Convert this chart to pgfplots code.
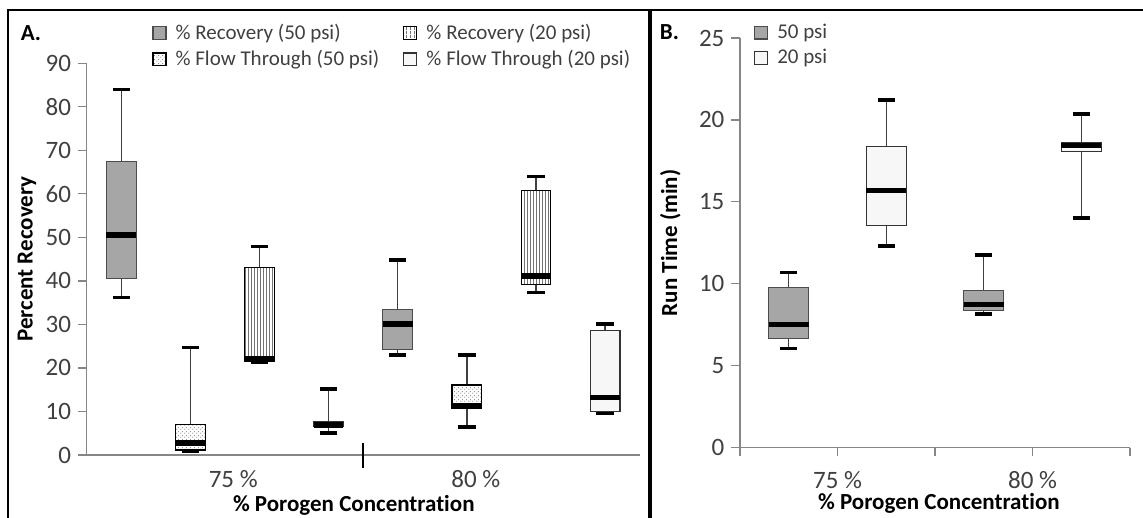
\documentclass[border=0pt]{standalone}
\usepackage{fontspec}
\setmainfont{Carlito}[RawFeature=-liga]
\usepackage{pgfplots}
\pgfplotsset{compat=1.18}
\usepgfplotslibrary{statistics}
\usetikzlibrary{patterns.meta}

\definecolor{axgray}{HTML}{868686}
\definecolor{boxgray}{HTML}{A6A6A6}
\definecolor{lightfill}{HTML}{F7F7F7}
\definecolor{txt}{HTML}{404040}

% fine fills like the Excel ones
\tikzdeclarepattern{
  name=finevlines, type=uncolored,
  bottom left={(0pt,0pt)}, top right={(1.7pt,1.7pt)}, tile size={(1.7pt,1.7pt)},
  code={\draw[line width=0.4pt] (0.85pt,-0.1pt) -- (0.85pt,1.8pt);}
}
\tikzdeclarepattern{
  name=finedots, type=uncolored,
  bottom left={(0pt,0pt)}, top right={(2pt,2pt)}, tile size={(2pt,2pt)},
  code={\fill (0.5pt,0.5pt) circle (0.35pt); \fill (1.5pt,1.4pt) circle (0.35pt);}
}

\tikzset{
  rec50/.style={draw=black!70, fill=boxgray, line width=0.6pt},
  rec20/.style={draw=black, pattern=finevlines, pattern color=black!55, line width=0.6pt},
  flow50/.style={draw=black, pattern=finedots, pattern color=black!50, line width=0.6pt},
  flow20/.style={draw=black!80, fill=lightfill, line width=0.6pt},
}

\pgfplotsset{
  legend image code/.code={\draw[#1] (0pt,-3.2pt) rectangle (6.5pt,3.2pt); \path (9pt,0pt);},
  boxplot/draw/lower whisker/.code={
    \draw[black!75, line width=0.7pt] (boxplot cs:\pgfplotsboxplotvalue{lower whisker}) -- (boxplot cs:\pgfplotsboxplotvalue{lower quartile});
    \draw[black, line width=1.8pt] (boxplot whisker cs:\pgfplotsboxplotvalue{lower whisker},0) -- (boxplot whisker cs:\pgfplotsboxplotvalue{lower whisker},1);
  },
  boxplot/draw/upper whisker/.code={
    \draw[black!75, line width=0.7pt] (boxplot cs:\pgfplotsboxplotvalue{upper whisker}) -- (boxplot cs:\pgfplotsboxplotvalue{upper quartile});
    \draw[black, line width=1.8pt] (boxplot whisker cs:\pgfplotsboxplotvalue{upper whisker},0) -- (boxplot whisker cs:\pgfplotsboxplotvalue{upper whisker},1);
  },
  excelbox/.style={
    axis x line*=bottom, axis y line*=left,
    axis line style={axgray, line width=0.6pt},
    tick style={axgray, line width=0.6pt},
    tick align=outside, major tick length=4.3pt,
    ytick pos=left, xtick pos=bottom,
    scale only axis, clip=false,
    /pgf/number format/assume math mode=true,
    tick label style={font=\fontsize{12.5}{14}\selectfont, text=txt},
    label style={font=\bfseries\fontsize{11.5}{13}\selectfont},
    legend style={draw=none, fill=none, inner sep=0pt,
      font=\fontsize{10.5}{12}\selectfont, text=txt},
    legend cell align=left,
    boxplot/draw direction=y,
  },
}

\begin{document}
\begin{tikzpicture}
\useasboundingbox (0pt,0pt) rectangle (571.5pt,-259pt);

% panel A
\begin{axis}[excelbox, at={(43.35pt,-227.5pt)}, anchor=south west,
  width=276.5pt, height=195.85pt,
  xmin=0, xmax=8, ymin=0, ymax=90, ytick={0,10,...,90},
  xtick={2.12,5.63}, xticklabels={75 \%,80 \%}, xtick style={draw=none},
  extra x ticks={4}, extra x tick labels={},
  extra x tick style={xtick style={draw=black, line width=1.1pt}, tick align=center, major tick length=12.5pt},
  xlabel={\% Porogen Concentration}, ylabel={Percent Recovery},
  xlabel style={at={(axis description cs:0.483,-0.128)}, anchor=center},
  ylabel style={at={(axis description cs:-0.108,0.5)}, anchor=center},
  legend columns=2,
  legend style={at={(axis description cs:0.118,1.112)}, anchor=north west,
    /tikz/every even column/.append style={column sep=10pt},
    /tikz/every row/.append style={row sep=4pt}},
  boxplot/box extend=0.43, boxplot/whisker extend=0.25,
  boxplot/every median/.style={black, line width=2.8pt},
]
\addlegendimage{rec50}\addlegendentry{\% Recovery (50 psi)}
\addlegendimage{rec20}\addlegendentry{\% Recovery (20 psi)}
\addlegendimage{flow50}\addlegendentry{\% Flow Through (50 psi)}
\addlegendimage{flow20}\addlegendentry{\% Flow Through (20 psi)}
% 75 %
\addplot[forget plot, boxplot/every box/.style={rec50}, boxplot prepared={draw position=0.5,
  lower whisker=36.2, lower quartile=40.6, median=50.5, upper quartile=67.4, upper whisker=84.0}] coordinates {};
\addplot[forget plot, boxplot/every box/.style={flow50}, boxplot prepared={draw position=1.5,
  lower whisker=0.9, lower quartile=1.15, median=2.8, upper quartile=7.1, upper whisker=24.7}] coordinates {};
\addplot[forget plot, boxplot/every box/.style={rec20}, boxplot prepared={draw position=2.5,
  lower whisker=21.4, lower quartile=21.4, median=22.1, upper quartile=43.1, upper whisker=47.9}] coordinates {};
\addplot[forget plot, boxplot/every box/.style={flow20}, boxplot prepared={draw position=3.5,
  lower whisker=5.1, lower quartile=6.6, median=6.9, upper quartile=7.6, upper whisker=15.1}] coordinates {};
% 80 %
\addplot[forget plot, boxplot/every box/.style={rec50}, boxplot prepared={draw position=4.5,
  lower whisker=23.0, lower quartile=24.3, median=30.1, upper quartile=33.5, upper whisker=44.8}] coordinates {};
\addplot[forget plot, boxplot/every box/.style={flow50}, boxplot prepared={draw position=5.5,
  lower whisker=6.4, lower quartile=10.6, median=11.3, upper quartile=16.1, upper whisker=23.0}] coordinates {};
\addplot[forget plot, boxplot/every box/.style={rec20}, boxplot prepared={draw position=6.5,
  lower whisker=37.3, lower quartile=39.1, median=41.1, upper quartile=60.7, upper whisker=64.0}] coordinates {};
\addplot[forget plot, boxplot/every box/.style={flow20}, boxplot prepared={draw position=7.5,
  lower whisker=9.6, lower quartile=10.0, median=13.25, upper quartile=28.6, upper whisker=30.1}] coordinates {};
\end{axis}

% panel B
\begin{axis}[excelbox, at={(370pt,-223.85pt)}, anchor=south west,
  width=195pt, height=204.85pt,
  xmin=0, xmax=4, ymin=0, ymax=25, ytick={0,5,...,25},
  xtick={0,1,2,3,4}, xticklabels={,75 \%,,80 \%,},
  x tick label style={yshift=-4pt},
  xlabel={\% Porogen Concentration}, ylabel={Run Time (min)},
  xlabel style={at={(axis description cs:0.51,-0.136)}, anchor=center},
  ylabel style={at={(axis description cs:-0.179,0.5)}, anchor=center},
  legend style={at={(axis description cs:0.035,1.045)}, anchor=north west,
    /tikz/every row/.append style={row sep=1.5pt}},
  boxplot/box extend=0.41, boxplot/whisker extend=0.17,
  boxplot/every median/.style={black, line width=2.5pt},
]
\addlegendimage{rec50}\addlegendentry{50 psi}
\addlegendimage{flow20}\addlegendentry{20 psi}
\addplot[forget plot, boxplot/every box/.style={rec50}, boxplot prepared={draw position=0.5,
  lower whisker=6.06, lower quartile=6.67, median=7.49, upper quartile=9.79, upper whisker=10.68}] coordinates {};
\addplot[forget plot, boxplot/every box/.style={flow20}, boxplot prepared={draw position=1.5,
  lower whisker=12.31, lower quartile=13.57, median=15.68, upper quartile=18.4, upper whisker=21.2}] coordinates {};
\addplot[forget plot, boxplot/every box/.style={rec50}, boxplot prepared={draw position=2.5,
  lower whisker=8.16, lower quartile=8.36, median=8.71, upper quartile=9.58, upper whisker=11.76}] coordinates {};
\addplot[forget plot, boxplot/every box/.style={flow20}, boxplot prepared={draw position=3.5,
  lower whisker=14.0, lower quartile=18.06, median=18.45, upper quartile=18.6, upper whisker=20.36}] coordinates {};
\end{axis}

% panel labels and frame
\node[font=\bfseries\fontsize{11.5}{13}\selectfont] at (15.5pt,-16.5pt) {A.};
\node[font=\bfseries\fontsize{11.5}{13}\selectfont] at (334.7pt,-16pt) {B.};
\draw[line width=1.2pt] (4pt,-259pt) -- (4pt,-5pt) -- (571.5pt,-5pt);
\draw[line width=1.6pt] (325pt,-5pt) -- (325pt,-259pt);
\end{tikzpicture}
\end{document}
